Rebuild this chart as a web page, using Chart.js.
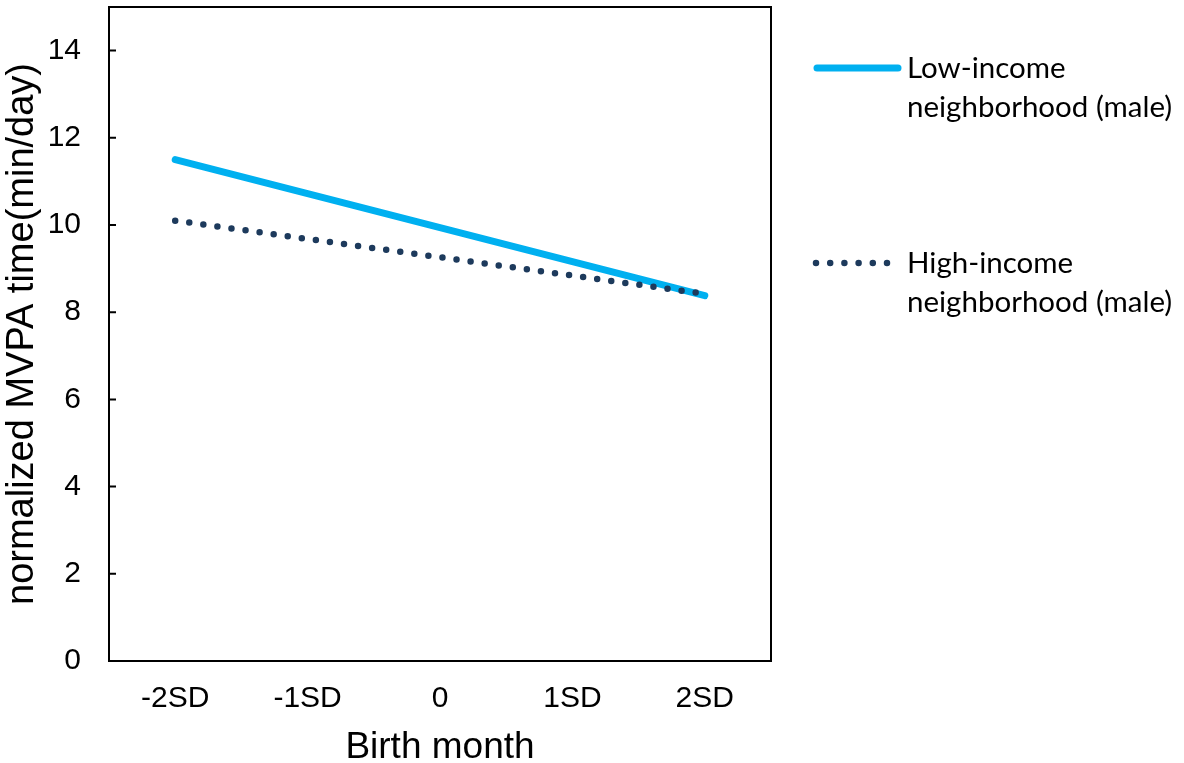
<!DOCTYPE html>
<html>
<head>
<meta charset="utf-8">
<script src="https://cdn.jsdelivr.net/npm/chart.js@4/dist/chart.umd.min.js"></script>
<style>
  html, body { margin: 0; padding: 0; background: #fff; }
  #wrap { width: 1184px; height: 763px; }
</style>
</head>
<body>
<div id="wrap"><canvas id="mvpa-chart"></canvas></div>
<script>
const CATEGORIES = ['-2SD', '-1SD', '0', '1SD', '2SD'];
const LOW_INCOME = [11.5, 10.72, 9.94, 9.16, 8.38];
const HIGH_INCOME = [10.1, 9.68, 9.26, 8.84, 8.42];
const SERIES_LABELS = [
  ['Low-income', 'neighborhood (male)'],
  ['High-income', 'neighborhood (male)']
];

const LOW_COLOR = '#00B0F0';
const HIGH_COLOR = '#1d3a5c';

// box around the plot, inward ticks on y, and the two-line legend on the right
const framePlugin = {
  id: 'frame',
  afterDraw(chart) {
    const ctx = chart.ctx;
    const area = chart.chartArea;
    const yScale = chart.scales.y;

    ctx.save();
    ctx.strokeStyle = '#000';
    ctx.lineWidth = 2;
    ctx.strokeRect(area.left, area.top, area.right - area.left, area.bottom - area.top);

    ctx.beginPath();
    yScale.ticks.forEach(t => {
      const y = yScale.getPixelForValue(t.value);
      ctx.moveTo(area.left, y);
      ctx.lineTo(area.left + 7, y);
    });
    ctx.stroke();

    // legend
    ctx.font = '29.5px Lato';
    ctx.fillStyle = '#000';
    ctx.textBaseline = 'middle';
    ctx.textAlign = 'left';

    const rows = [68, 263];
    chart.data.datasets.forEach((ds, i) => {
      const y = rows[i];
      ctx.beginPath();
      ctx.strokeStyle = ds.borderColor;
      ctx.lineWidth = ds.borderWidth;
      ctx.lineCap = 'round';
      ctx.setLineDash(ds.borderDash || []);
      if (ds.borderDash) {
        ctx.moveTo(816, y);
        ctx.lineTo(889, y);
      } else {
        ctx.moveTo(817, y);
        ctx.lineTo(898, y);
      }
      ctx.stroke();
      ctx.setLineDash([]);
      SERIES_LABELS[i].forEach((line, j) => {
        ctx.fillText(line, 907, y + j * 39);
      });
    });
    ctx.restore();
  }
};

function addMvpaChart() {
  const ctx = document.getElementById('mvpa-chart');

  if (!ctx) {
    return;
  }

  const myChart = new Chart(ctx, {
    type: 'line',
    data: {
      labels: CATEGORIES,
      datasets: [{
        label: SERIES_LABELS[0].join(' '),
        data: LOW_INCOME,
        borderColor: LOW_COLOR,
        borderWidth: 7,
        borderCapStyle: 'round',
        pointRadius: 0,
        tension: 0,
        order: 2
      }, {
        label: SERIES_LABELS[1].join(' '),
        data: HIGH_INCOME,
        borderColor: HIGH_COLOR,
        borderWidth: 6.5,
        borderDash: [0, 14.2],
        borderCapStyle: 'round',
        pointRadius: 0,
        tension: 0,
        order: 1
      }]
    },
    options: {
      responsive: true,
      maintainAspectRatio: false,
      animation: false,
      layout: {
        padding: { top: 7, right: 413, left: 0, bottom: 0 }
      },
      plugins: {
        legend: { display: false },
        tooltip: { enabled: false }
      },
      scales: {
        x: {
          offset: true,
          grid: { display: false, drawTicks: false },
          border: { display: false },
          ticks: {
            color: '#000',
            padding: 20,
            font: { family: '"Liberation Sans", Arial', size: 30 }
          },
          title: {
            display: true,
            text: 'Birth month',
            color: '#000',
            padding: 0,
            font: { family: '"Liberation Sans", Arial', size: 37, lineHeight: 0.8 }
          },
          afterFit(scale) {
            scale.height = 102;
            scale.paddingLeft = 0;
            scale.paddingRight = 0;
          }
        },
        y: {
          min: 0,
          max: 15,
          grid: { display: false, drawTicks: false },
          border: { display: false },
          afterBuildTicks(scale) {
            scale.ticks = scale.ticks.filter(t => t.value % 2 === 0);
          },
          ticks: {
            stepSize: 2,
            color: '#000',
            padding: 28,
            font: { family: '"Liberation Sans", Arial', size: 30 }
          },
          title: {
            display: true,
            text: 'normalized MVPA time(min/day)',
            color: '#000',
            padding: 0,
            font: { family: '"Liberation Sans", Arial', size: 38 }
          },
          afterFit(scale) {
            scale.width = 109;
            scale.paddingTop = 0;
            scale.paddingBottom = 0;
          }
        }
      }
    },
    plugins: [framePlugin]
  });
}

addMvpaChart();
</script>
</body>
</html>
